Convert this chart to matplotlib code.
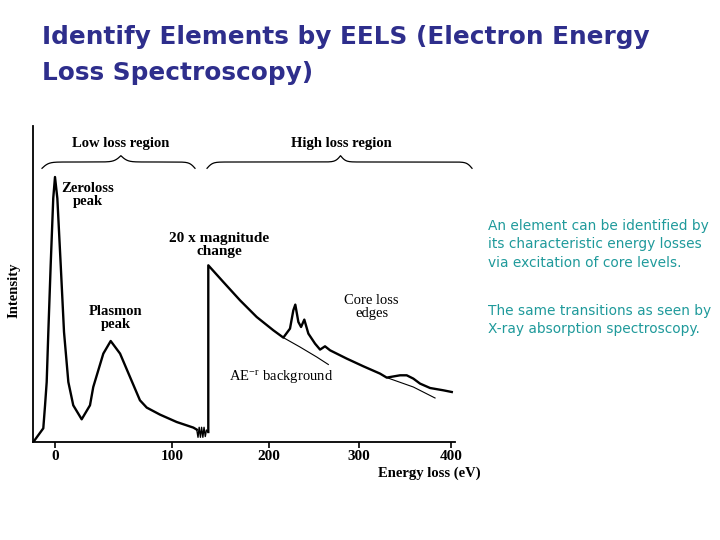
import numpy as np
import matplotlib
matplotlib.use("Agg")
import matplotlib.pyplot as plt

plt.rcParams['mathtext.fontset'] = 'stix'

# EELS spectrum (energy in eV, intensity in arbitrary units)
low_energy = [-18.5, -10.0, -8.5, -7.1, -5.7, -3.7, -1.5, 0, 2.0, 4.9, 7.7, 11.4,
              15.6, 22.8, 29.9, 32.7, 41.3, 47.6, 55.6, 64.1, 72.6, 78.4, 89.7,
              104.8, 122.0, 125.5]
low_intensity = [0, 13.7, 36.7, 60, 110, 176.7, 243.7, 265, 243.7, 176.7, 110, 60,
                 36.7, 22.7, 36.7, 55, 88.4, 101, 88.4, 65, 41.7, 34.4, 27.4,
                 20, 14.4, 12.4]

# scale break marks between the two parts
brk_energy = [125.5, 126.8, 128.0, 129.3, 130.5, 131.8, 133.0, 134.3, 135.5, 137.4]
brk_intensity = [12.4, 4.7, 14.7, 4.7, 14.7, 4.7, 14.7, 5.5, 12, 10]

# high loss part (x20)
high_energy = [137.4, 137.4, 152.9, 170.1, 187.3, 204.8, 215.9, 223.3, 227.0, 229.2,
               232.6, 235.6, 239.2, 243.7, 251.1, 256.7, 262.2, 267.8, 286.3, 304.7,
               322.8, 330.1, 344.6, 351.8, 359.0, 366.3, 377.2, 391.6, 400.8]
high_intensity = [10, 176.7, 160, 141.7, 125, 111.7, 104.4, 113.4, 131.7, 137.4,
                  120, 115, 122.4, 108.4, 98.4, 92.4, 95.7, 91.7, 83.4, 75.7,
                  68.4, 64.4, 66.7, 66.7, 63.4, 58.4, 54, 51.7, 50]

# AE^-r background extrapolations under the two edges
bg1_energy = [215.9, 234.4, 253.0, 265.9]
bg1_intensity = [104.4, 95, 85, 77.5]
bg2_energy = [330.1, 359.0, 382.6]
bg2_intensity = [64.4, 55, 44]

xticks = [0, 100, 200, 300, 400]

# the original axis is not quite linear, tick spacing shrinks to the right
e_anchor = np.array([-100, 0, 100, 200, 300, 400, 500])
p_anchor = np.array([-62, 55, 172, 269, 359, 451, 543])

def fwd(e):
    return np.interp(e, e_anchor, p_anchor)

def inv(p):
    return np.interp(p, p_anchor, e_anchor)


def brace(ax, x0, x1, y_end, y_line, beta=0.35):
    x = np.linspace(x0, x1, 401)
    half = x[:201]
    yh = 1 / (1 + np.exp(-beta * (half - half[0]))) + 1 / (1 + np.exp(-beta * (half - half[-1])))
    yc = np.concatenate((yh, yh[-2::-1]))
    y = y_end + (yc - 0.5) * (y_line - y_end) / 0.5
    ax.plot(x, y, color="black", lw=0.9, clip_on=False)


fig = plt.figure(figsize=(7.2, 5.4), dpi=100)
ax = fig.add_axes([33/720, 1-442/540, 422/720, 316/540])
ax.set_xscale('function', functions=(fwd, inv))
ax.set_xlim(-18.8, 404.3)
ax.set_ylim(0, 316)

ax.plot(low_energy, low_intensity, color="black", lw=1.7, solid_joinstyle="round")
ax.plot(brk_energy, brk_intensity, color="black", lw=1.0)
ax.plot(high_energy, high_intensity, color="black", lw=1.7, solid_joinstyle="round")
ax.plot(bg1_energy, bg1_intensity, color="black", lw=0.8)
ax.plot(bg2_energy, bg2_intensity, color="black", lw=0.8)

for s in ["top", "right"]:
    ax.spines[s].set_visible(False)
for s in ["left", "bottom"]:
    ax.spines[s].set_linewidth(1.3)
ax.set_yticks([])
ax.set_xticks(xticks)
ax.set_xticklabels([str(t) for t in xticks], family="Liberation Serif",
                   fontsize=11, fontweight="bold")
ax.tick_params(axis="x", direction="out", length=4, width=1.2, pad=2)

serif = dict(family="Liberation Serif", color="black")
ax.text(56, 299, "Low loss region", ha="center", va="center", fontsize=10.5,
        fontweight="bold", **serif)
ax.text(280, 299, "High loss region", ha="center", va="center", fontsize=10.5,
        fontweight="bold", **serif)
brace(ax, -11.1, 123.7, 273.7, 280)
brace(ax, 136.1, 422.8, 273.7, 280)

ax.text(28.2, 247, "Zeroloss\npeak", ha="center", va="center", fontsize=10.5,
        fontweight="bold", linespacing=0.95, **serif)
ax.text(52.1, 124, "Plasmon\npeak", ha="center", va="center", fontsize=10.5,
        fontweight="bold", linespacing=0.95, **serif)
ax.text(148.8, 197, "20 x magnitude\nchange", ha="center", va="center", fontsize=11,
        fontweight="bold", linespacing=1.0, **serif)
ax.text(313.8, 135, "Core loss\nedges", ha="center", va="center", fontsize=10.5,
        linespacing=0.95, **serif)
ax.text(213.9, 65, r"AE$^{\mathregular{-r}}$ background", ha="center", va="center",
        fontsize=10.5, **serif)

fig.text(14/720, 1-290/540, "Intensity", rotation=90, ha="center", va="center",
         fontsize=10.5, fontweight="bold", **serif)
fig.text(481/720, 1-473/540, "Energy loss (eV)", ha="right", va="center",
         fontsize=10.5, fontweight="bold", **serif)

fig.text(42/720, 1-25/540, "Identify Elements by EELS (Electron Energy\nLoss Spectroscopy)",
         ha="left", va="top", fontsize=17.8, fontweight="bold", color="#2e2e8c",
         family="DejaVu Sans", linespacing=1.62)

teal = "#1f9a9b"
fig.text(488/720, 1-219/540, "An element can be identified by\nits characteristic energy losses\nvia excitation of core levels.",
         ha="left", va="top", fontsize=9.9, color=teal, family="DejaVu Sans", linespacing=1.4)
fig.text(488/720, 1-304/540, "The same transitions as seen by\nX-ray absorption spectroscopy.",
         ha="left", va="top", fontsize=9.9, color=teal, family="DejaVu Sans", linespacing=1.4)

fig.savefig("out.png", dpi=100)
